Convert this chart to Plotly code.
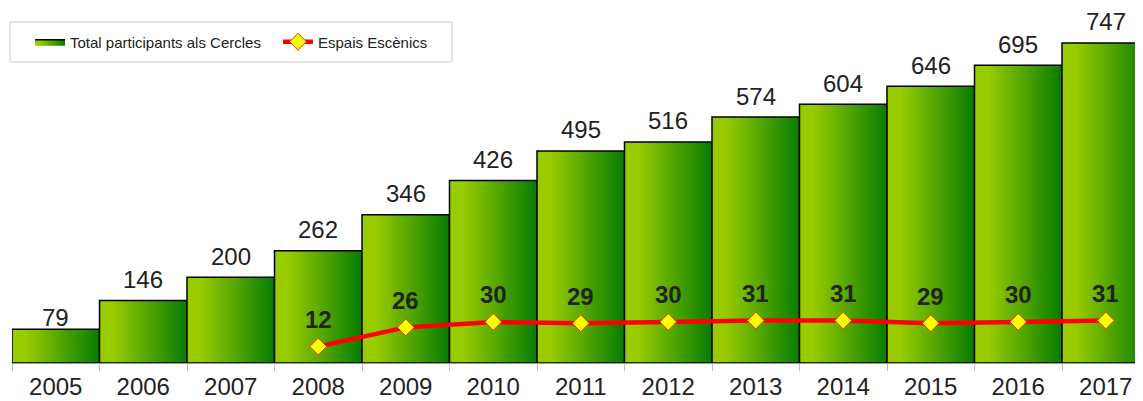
import plotly.graph_objects as go

years = [2005, 2006, 2007, 2008, 2009, 2010, 2011, 2012, 2013, 2014, 2015, 2016, 2017]
participants = [79, 146, 200, 262, 346, 426, 495, 516, 574, 604, 646, 695, 747]
espais_years = [2008, 2009, 2010, 2011, 2012, 2013, 2014, 2015, 2016, 2017]
espais = [12, 26, 30, 29, 30, 31, 31, 29, 30, 31]

bar_name = "Total participants als Cercles"
line_name = "Espais Escènics"

FONT = "Arial, Liberation Sans, sans-serif"
# the page body has an 8px margin, so the figure starts at (8, 8) in the window
OFF = 8
W, H = 1143 - OFF, 401 - OFF
ML = 12 - OFF
BASE = 363 - OFF          # baseline in figure pixels
MB = H - BASE
PW, PH = W - ML, BASE
grad = [[0, "#99cc00"], [0.15, "#99cc00"], [1, "#067c00"]]

fig = go.Figure()
for i, (yr, v) in enumerate(zip(years, participants)):
    fig.add_trace(go.Scatter(
        x=[yr - 0.5, yr - 0.5, yr + 0.5, yr + 0.5, yr - 0.5],
        y=[0, v, v, 0, 0],
        mode="lines", fill="toself",
        fillgradient=dict(type="horizontal", colorscale=grad),
        line=dict(color="black", width=1.5),
        name=bar_name, legendgroup="bars", showlegend=(i == 0),
        hoverinfo="skip",
    ))

fig.add_trace(go.Scatter(
    x=espais_years, y=espais, yaxis="y2", mode="lines+markers",
    name=line_name,
    line=dict(color="#ff0000", width=4.5),
    marker=dict(symbol="diamond", size=13, color="#ffff00", line=dict(color="#e83000", width=1)),
))

annotations = []
for i, (yr, v) in enumerate(zip(years, participants)):
    annotations.append(dict(
        x=yr, y=v, xref="x", yref="y", text=str(v), showarrow=False,
        yanchor="middle", yshift=(12 if i == 0 else 21),
        font=dict(family=FONT, size=24, color="#222222"),
    ))
for yr, v in zip(espais_years, espais):
    annotations.append(dict(
        x=yr, y=v, xref="x", yref="y2", text="<b>%d</b>" % v, showarrow=False,
        yanchor="middle", yshift=27,
        font=dict(family=FONT, size=24, color="#222222"),
    ))

px_per_unit_x = 87.5
fig.update_layout(
    width=W, height=H,
    margin=dict(l=ML, r=0, t=0, b=MB, autoexpand=False),
    paper_bgcolor="white", plot_bgcolor="white",
    font=dict(family=FONT, color="#222222"),
    showlegend=True,
    legend=dict(
        orientation="h", x=(30 - 12) / PW, y=1 - (42 - OFF) / PH,
        xanchor="left", yanchor="middle",
        font=dict(family=FONT, size=15, color="#222222"),
        bgcolor="rgba(0,0,0,0)", borderwidth=0,
        entrywidth=203,
    ),
    xaxis=dict(
        range=[years[0] - 0.5, years[0] - 0.5 + PW / px_per_unit_x],
        tickvals=years, ticktext=[str(y) for y in years],
        tickfont=dict(family=FONT, size=24, color="#222222"),
        ticks="", showgrid=False, zeroline=False, automargin=False,
        showline=True, linecolor="#999999", linewidth=1,
        ticklabelstandoff=2,
        minor=dict(ticks="outside", ticklen=7, tickcolor="#bbbbbb",
                   tick0=years[0] - 0.5, dtick=1, showgrid=False),
    ),
    yaxis=dict(range=[0, PH / 0.4284], visible=False, showgrid=False, zeroline=False, automargin=False),
    yaxis2=dict(range=[0, PH / 1.37], overlaying="y", visible=False, showgrid=False, zeroline=False, automargin=False),
    annotations=annotations,
    shapes=[dict(
        type="rect", xref="paper", yref="paper",
        x0=(10 - 12) / PW, x1=(452 - 12) / PW,
        y0=1 - (62 - OFF) / PH, y1=1 - (22 - OFF) / PH,
        line=dict(color="#cccccc", width=1), fillcolor="rgba(0,0,0,0)",
    )],
)

fig.write_html("out.html")
